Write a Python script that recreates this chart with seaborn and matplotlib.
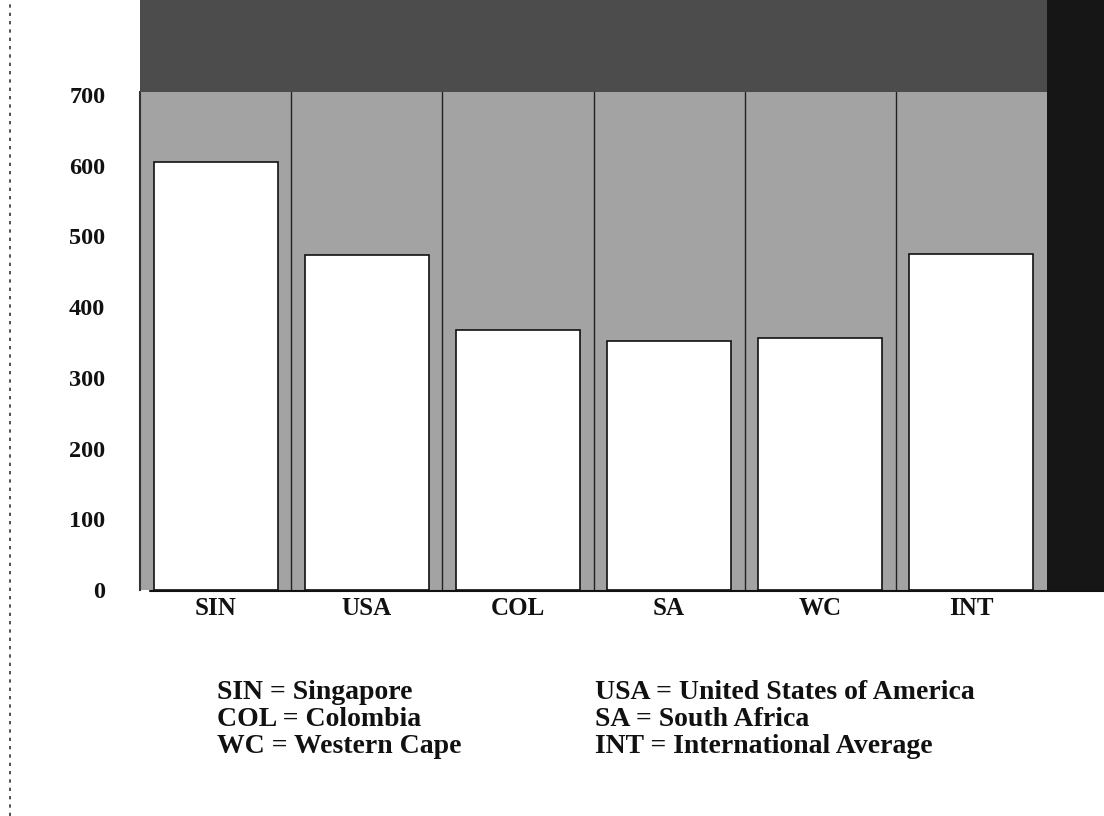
import matplotlib
matplotlib.use("Agg")
import matplotlib.pyplot as plt
import seaborn as sns
import pandas as pd
from matplotlib.patches import Rectangle
from matplotlib.lines import Line2D

categories = ["SIN", "USA", "COL", "SA", "WC", "INT"]
scores = [605, 474, 368, 352, 356, 475]
y_ticks = [0, 100, 200, 300, 400, 500, 600, 700]
legend_left = ["SIN = Singapore", "COL = Colombia", "WC = Western Cape"]
legend_right = ["USA = United States of America", "SA = South Africa", "INT = International Average"]

sns.set_theme(style="white")
plt.rcParams['font.family'] = ['Liberation Serif', 'DejaVu Serif']

df = pd.DataFrame({"country": categories, "score": scores})

fig = plt.figure(figsize=(11.04, 8.16), dpi=100)
fig.patch.set_facecolor("white")

# dark scanned bands (top and right)
fig.patches.append(Rectangle((140/1104, (816-92)/816), 1 - 140/1104, 92/816,
                             transform=fig.transFigure, facecolor="#4c4c4c", edgecolor="none", zorder=0))
fig.patches.append(Rectangle((1047/1104, (816-592)/816), 1 - 1047/1104, 592/816,
                             transform=fig.transFigure, facecolor="#161616", edgecolor="none", zorder=0))
# left dotted border
fig.lines.append(Line2D([10/1104, 10/1104], [0, 1], transform=fig.transFigure,
                        color="#333333", lw=1.2, ls=(0, (2, 3))))

ax = fig.add_axes([140/1104, (816-590)/816, (1047-140)/1104, (590-92)/816])
ax.set_facecolor("#a3a3a3")

sns.barplot(data=df, x="country", y="score", color="white", width=0.82,
            edgecolor="#111111", linewidth=1.2, saturation=1, ax=ax, zorder=3)

ax.set_ylim(0, 704)
ax.set_xlim(-0.5, len(categories) - 0.5)
ax.set_yticks(y_ticks)
ax.set_yticklabels([str(t) for t in y_ticks], fontsize=17.5, fontweight="bold", color="#111111")
ax.tick_params(axis="y", length=0, pad=25)
ax.set_xticks(range(len(categories)))
ax.set_xticklabels(categories, fontsize=18, fontweight="bold", color="#111111")
ax.tick_params(axis="x", length=0, pad=5)
ax.set_xlabel("")
ax.set_ylabel("")

# vertical category dividers
for b in range(1, len(categories)):
    ax.axvline(b - 0.5, color="#222222", lw=1.0, zorder=2)

for s in ["top", "right"]:
    ax.spines[s].set_visible(False)
ax.spines["left"].set_color("#333333")
ax.spines["left"].set_linewidth(1.5)
ax.spines["bottom"].set_visible(False)

# x-axis baseline extending to the right edge
fig.lines.append(Line2D([150/1104, 1.0], [(816-591)/816, (816-591)/816],
                        transform=fig.transFigure, color="#111111", lw=1.5))

for i, txt in enumerate(legend_left):
    fig.text(217/1104, (816-699 - i*26.8)/816, txt, fontsize=20, fontweight="bold",
             va="baseline", ha="left", color="#111111")
for i, txt in enumerate(legend_right):
    fig.text(595/1104, (816-699 - i*26.8)/816, txt, fontsize=20, fontweight="bold",
             va="baseline", ha="left", color="#111111")

fig.savefig("out.png", dpi=100, facecolor=fig.get_facecolor())
